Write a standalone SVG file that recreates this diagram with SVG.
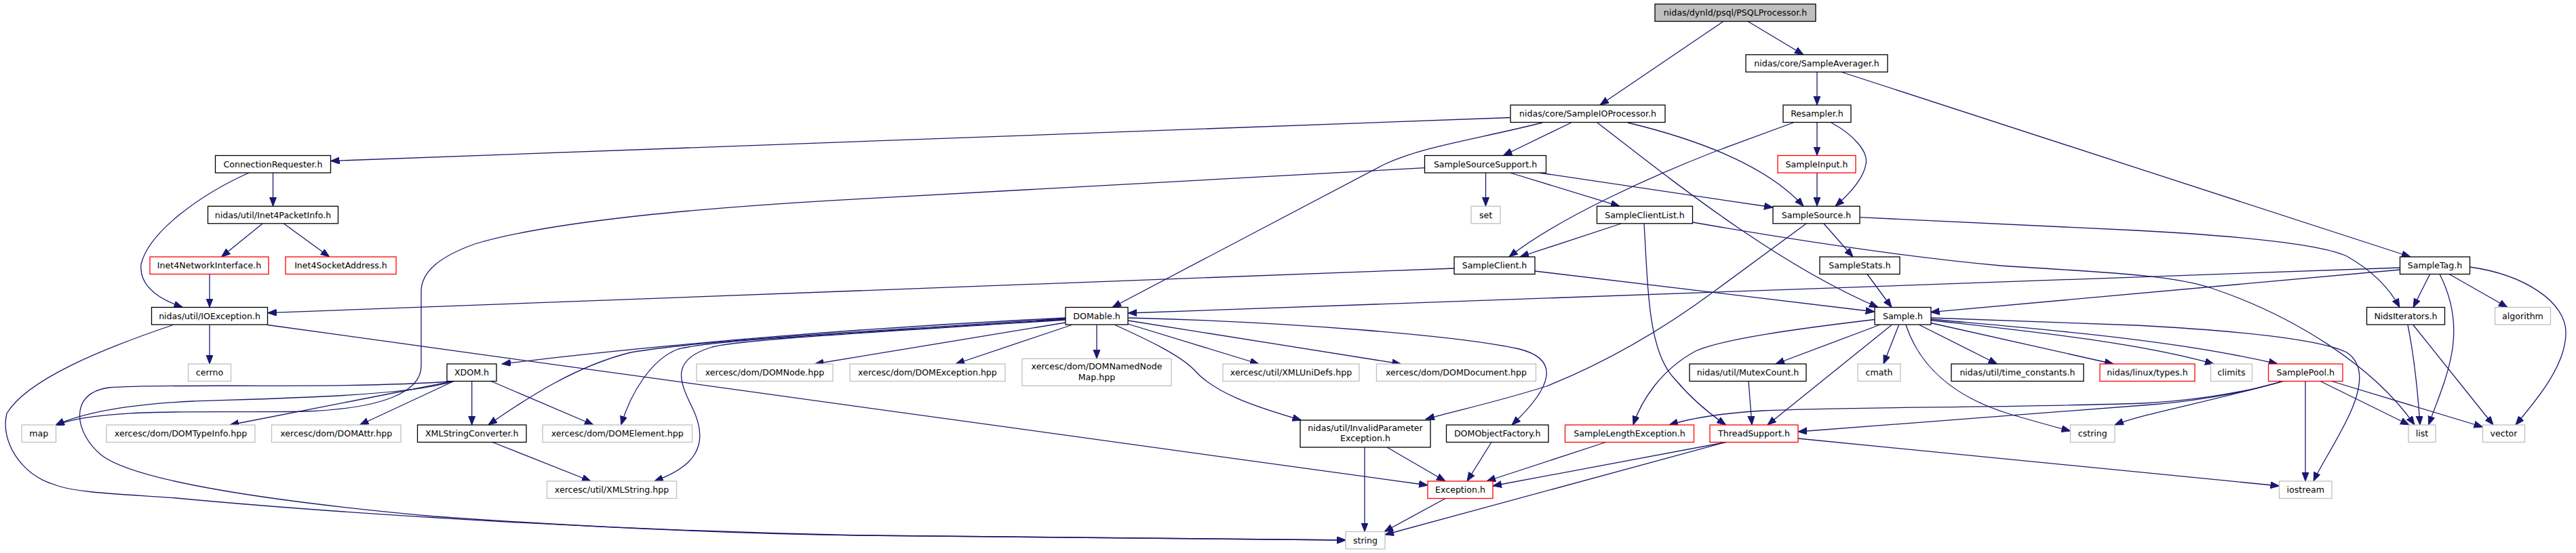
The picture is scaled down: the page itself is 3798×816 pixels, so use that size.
<svg xmlns="http://www.w3.org/2000/svg" width="3798" height="816" viewBox="0 0 3798 816">
<style>
rect{fill:#fff;stroke:#000;stroke-width:1.3}
.root rect{fill:#bfbfbf}
.red rect{stroke:#ff0000}
.gry rect{stroke:#bfbfbf}
text{font-family:"DejaVu Sans","Liberation Sans",sans-serif;font-size:12.6px;text-anchor:middle;fill:#000}
#edges path{fill:none;stroke:#191970;stroke-width:1.3;marker-end:url(#ah)}
</style>
<defs>
<marker id="ah" markerUnits="userSpaceOnUse" markerWidth="14" markerHeight="11" refX="13" refY="5" orient="auto">
<path d="M0,0 L13,5 L0,10 z" fill="#191970" stroke="#191970" stroke-width="1"/>
</marker>
</defs>
<rect x="0" y="0" width="3798" height="816" style="fill:#fff;stroke:none"/>
<g id="edges">
<path d="M2541,31.5 L2359,155"/>
<path d="M2577,31.5 L2659,80.7"/>
<path d="M2227,173.5 L487.5,237.5"/>
<path d="M2274,181 C2180,205 2100,215 2040,243 L1640,453.5"/>
<path d="M2316.5,181 L2216.5,229.5"/>
<path d="M2355,181 C2470,270 2620,390 2769,453.5"/>
<path d="M2400,181 C2520,210 2610,250 2659,304.3"/>
<path d="M2679,106 L2679,155"/>
<path d="M2714,106 L3554,379"/>
<path d="M2644,181 L2530,223 C2440,258 2300,320 2225,379"/>
<path d="M2679,181 L2679,229.5"/>
<path d="M2700,181 C2735,200 2755,225 2751,242 C2748,262 2728,285 2706,304.3"/>
<path d="M2679,255 L2679,304.3"/>
<path d="M402.5,255 L402.5,304.3"/>
<path d="M367,255 C300,285 220,340 208,390 C205,420 230,440 269.4,453.5"/>
<path d="M387,330 L326.5,379"/>
<path d="M418.5,330 L485.7,379"/>
<path d="M309,404.5 L309,453.5"/>
<path d="M2190.5,255 L2190.5,304.3"/>
<path d="M2226.7,255 L2388,304.3"/>
<path d="M2269.6,255 L2614,306"/>
<path d="M2100.6,247.7 L1270,293.3 C1000,308 800,330 700,360 C650,378 621,400 621,430 L621,540 C621,580 560,603 450,607 C320,610 150,600 82,627.5"/>
<path d="M2390,330 L2241,379"/>
<path d="M2424,330 C2430,430 2430,520 2470,560 C2495,590 2520,610 2544.5,627"/>
<path d="M2495.7,328 C2650,355 2800,378 2950,392 C3100,402 3200,405 3260,425 C3380,465 3500,540 3560,627"/>
<path d="M2689,330 L2732,379"/>
<path d="M2742.4,320.7 L3150,340 C3300,348 3420,360 3460,378 C3490,395 3520,420 3538,453.5"/>
<path d="M2663,330 L2530,428 C2460,480 2380,530 2280,570 C2200,595 2150,605 2102,618.5"/>
<path d="M2753,404.5 L2789,453.5"/>
<path d="M2144,396 L394.7,461.7"/>
<path d="M2263,400 L2763.7,460"/>
<path d="M3538.6,395 L1663.3,462"/>
<path d="M3538.6,398 L2846.5,460.7"/>
<path d="M3582.6,404.5 L3558,453.5"/>
<path d="M3597,404.5 C3615,440 3622,480 3615,520 C3608,560 3592,595 3580.6,627"/>
<path d="M3611,404.5 L3697,453.5"/>
<path d="M3641.8,394 C3720,405 3785,445 3783,493 C3782,540 3740,590 3709,627"/>
<path d="M309,479.5 L309,537"/>
<path d="M255,479.5 C150,515 40,560 10,610 C0,650 30,700 80,715 C110,728 200,730 260,735 C420,750 800,780 1270,790 L1984,797"/>
<path d="M394.7,479.5 L2105,716"/>
<path d="M1571,469 C1300,482 1000,505 740,537"/>
<path d="M1571,470 C1300,488 1050,500 930,520 C850,540 780,585 720,627"/>
<path d="M1571,471 C1300,490 1060,500 1000,515 C960,530 930,580 915.7,627"/>
<path d="M1571,472 C1300,490 1100,500 1050,512 C990,530 1000,560 1020,600 C1050,660 1020,690 964.7,710"/>
<path d="M1571,476 L1201.4,537"/>
<path d="M1580,479.5 L1409,537"/>
<path d="M1617,479.5 L1617,529.3"/>
<path d="M1663,478 L1856,537"/>
<path d="M1663.3,473 L2065.5,537"/>
<path d="M1663.3,469 C1900,475 2150,495 2240,515 C2300,530 2290,570 2229,627"/>
<path d="M1644,479.5 C1700,505 1740,525 1760,545 C1790,580 1850,600 1918.6,620"/>
<path d="M695.7,562.5 L695.7,627"/>
<path d="M724,562.5 L875,627"/>
<path d="M669,562.5 C600,585 400,588 285,592 C180,597 120,610 82,627.5"/>
<path d="M669,562.5 L339,627"/>
<path d="M669,562.5 L530.6,627"/>
<path d="M669,562.5 C500,575 250,565 160,572 C100,580 110,640 150,672 C200,710 400,740 640,762 C900,780 1100,788 1270,790 L1984,797"/>
<path d="M726,652.5 L871,710"/>
<path d="M2012,660 L2012,784.5"/>
<path d="M2045,660 L2131,710"/>
<path d="M2199,652.5 L2163,710"/>
<path d="M2367.6,652.5 L2192,710"/>
<path d="M2544.5,652.5 L2201,717"/>
<path d="M2544.5,652.5 L2042,789"/>
<path d="M2131,735.5 L2041,784.5"/>
<path d="M2771,479.5 L2618,537"/>
<path d="M2789,479.5 L2606,627"/>
<path d="M2799.6,479.5 L2777,537"/>
<path d="M2810,479.5 C2830,540 2880,585 2960,610 C3000,622 3030,630 3052.5,636"/>
<path d="M2830,479.5 L2944.5,537"/>
<path d="M2846.5,476.5 L3116,537"/>
<path d="M2846.5,472.5 C3000,490 3150,505 3264,537"/>
<path d="M2846.5,471 C3000,485 3200,500 3358,537"/>
<path d="M2846.5,469 L3150,480 C3300,488 3420,500 3460,520 C3490,540 3480,580 3460,620 C3440,660 3420,690 3411,710"/>
<path d="M2763.7,471.5 C2650,485 2540,500 2500,518 C2450,545 2420,590 2408,627"/>
<path d="M2578,562.5 L2583,627"/>
<path d="M3366,562.5 C3300,582 3220,594 3160,598 L2651,637"/>
<path d="M3366,562.5 C3300,582 3220,592 3160,595 C2950,602 2750,600 2600,606 C2530,610 2490,618 2461,627"/>
<path d="M3366,562.5 C3250,595 3160,610 3118,627"/>
<path d="M3399,562.5 L3399,710"/>
<path d="M3421,562.5 L3552,627"/>
<path d="M3437.7,562.5 L3660.5,630"/>
<path d="M3550,479.5 C3560,530 3565,580 3568,627"/>
<path d="M3558,479.5 L3676,627"/>
<path d="M2651,647 L3360.5,717"/>
</g>
<g id="n_root" class="root"><rect x="2440" y="6" width="237" height="25.5"/><text x="2558.5" y="23.2">nidas/dynld/psql/PSQLProcessor.h</text></g>
<g id="n_SampleAverager"><rect x="2574" y="80.7" width="209" height="25.5"/><text x="2678.5" y="97.9">nidas/core/SampleAverager.h</text></g>
<g id="n_SampleIOProcessor"><rect x="2227" y="155" width="228" height="25.5"/><text x="2341" y="172.2">nidas/core/SampleIOProcessor.h</text></g>
<g id="n_Resampler"><rect x="2629" y="155" width="100" height="25.5"/><text x="2679" y="172.2">Resampler.h</text></g>
<g id="n_ConnectionRequester"><rect x="317.5" y="229.5" width="170" height="25.5"/><text x="402.5" y="246.7">ConnectionRequester.h</text></g>
<g id="n_SampleSourceSupport"><rect x="2100.5" y="229.5" width="179" height="25.5"/><text x="2190" y="246.7">SampleSourceSupport.h</text></g>
<g id="n_SampleInput" class="red"><rect x="2621" y="229.5" width="115" height="25.5"/><text x="2678.5" y="246.7">SampleInput.h</text></g>
<g id="n_Inet4PacketInfo"><rect x="306.5" y="304.3" width="192" height="25.5"/><text x="402.5" y="321.5">nidas/util/Inet4PacketInfo.h</text></g>
<g id="n_set" class="gry"><rect x="2169" y="304.3" width="43" height="25.5"/><text x="2190.5" y="321.5">set</text></g>
<g id="n_SampleClientList"><rect x="2354.5" y="304.3" width="141" height="25.5"/><text x="2425" y="321.5">SampleClientList.h</text></g>
<g id="n_SampleSource"><rect x="2614" y="304.3" width="128" height="25.5"/><text x="2678" y="321.5">SampleSource.h</text></g>
<g id="n_Inet4NetworkInterface" class="red"><rect x="221" y="379" width="175" height="25.5"/><text x="308.5" y="396.2">Inet4NetworkInterface.h</text></g>
<g id="n_Inet4SocketAddress" class="red"><rect x="421" y="379" width="163" height="25.5"/><text x="502.5" y="396.2">Inet4SocketAddress.h</text></g>
<g id="n_SampleClient"><rect x="2144" y="379" width="119" height="25.5"/><text x="2203.5" y="396.2">SampleClient.h</text></g>
<g id="n_SampleStats"><rect x="2683" y="379" width="118" height="25.5"/><text x="2742" y="396.2">SampleStats.h</text></g>
<g id="n_SampleTag"><rect x="3538.5" y="379" width="103" height="25.5"/><text x="3590" y="396.2">SampleTag.h</text></g>
<g id="n_IOException"><rect x="223.5" y="453.5" width="171" height="25.5"/><text x="309" y="470.7">nidas/util/IOException.h</text></g>
<g id="n_DOMable"><rect x="1571" y="453.5" width="92" height="25.5"/><text x="1617" y="470.7">DOMable.h</text></g>
<g id="n_Sample"><rect x="2764" y="453.5" width="83" height="25.5"/><text x="2805.5" y="470.7">Sample.h</text></g>
<g id="n_NidsIterators"><rect x="3489.5" y="453.5" width="115" height="25.5"/><text x="3547" y="470.7">NidsIterators.h</text></g>
<g id="n_algorithm" class="gry"><rect x="3678.5" y="453.5" width="82" height="25.5"/><text x="3719.5" y="470.7">algorithm</text></g>
<g id="n_cerrno" class="gry"><rect x="277.5" y="537" width="63" height="25.5"/><text x="309" y="554.2">cerrno</text></g>
<g id="n_XDOM"><rect x="659" y="537" width="73" height="25.5"/><text x="695.5" y="554.2">XDOM.h</text></g>
<g id="n_DOMNode" class="gry"><rect x="1027" y="537" width="201" height="25.5"/><text x="1127.5" y="554.2">xercesc/dom/DOMNode.hpp</text></g>
<g id="n_DOMException" class="gry"><rect x="1253" y="537" width="229" height="25.5"/><text x="1367.5" y="554.2">xercesc/dom/DOMException.hpp</text></g>
<g id="n_DOMNamedNodeMap" class="gry"><rect x="1507" y="529.3" width="220" height="40"/><text x="1617" y="545">xercesc/dom/DOMNamedNode</text><text x="1617" y="560.5">Map.hpp</text></g>
<g id="n_XMLUniDefs" class="gry"><rect x="1803" y="537" width="201" height="25.5"/><text x="1903.5" y="554.2">xercesc/util/XMLUniDefs.hpp</text></g>
<g id="n_DOMDocument" class="gry"><rect x="2029.5" y="537" width="235" height="25.5"/><text x="2147" y="554.2">xercesc/dom/DOMDocument.hpp</text></g>
<g id="n_MutexCount"><rect x="2491" y="537" width="172" height="25.5"/><text x="2577" y="554.2">nidas/util/MutexCount.h</text></g>
<g id="n_cmath" class="gry"><rect x="2739" y="537" width="63" height="25.5"/><text x="2770.5" y="554.2">cmath</text></g>
<g id="n_time_constants"><rect x="2877" y="537" width="195" height="25.5"/><text x="2974.5" y="554.2">nidas/util/time_constants.h</text></g>
<g id="n_linux_types" class="red"><rect x="3096" y="537" width="140" height="25.5"/><text x="3166" y="554.2">nidas/linux/types.h</text></g>
<g id="n_climits" class="gry"><rect x="3259.5" y="537" width="61" height="25.5"/><text x="3290" y="554.2">climits</text></g>
<g id="n_SamplePool" class="red"><rect x="3344.5" y="537" width="109.5" height="25.5"/><text x="3399.25" y="554.2">SamplePool.h</text></g>
<g id="n_map" class="gry"><rect x="32" y="627" width="50.5" height="25.5"/><text x="57.25" y="644.2">map</text></g>
<g id="n_DOMTypeInfo" class="gry"><rect x="157" y="627" width="219" height="25.5"/><text x="266.5" y="644.2">xercesc/dom/DOMTypeInfo.hpp</text></g>
<g id="n_DOMAttr" class="gry"><rect x="400.5" y="627" width="190.5" height="25.5"/><text x="495.75" y="644.2">xercesc/dom/DOMAttr.hpp</text></g>
<g id="n_XMLStringConverter"><rect x="615.5" y="627" width="160.5" height="25.5"/><text x="695.75" y="644.2">XMLStringConverter.h</text></g>
<g id="n_DOMElement" class="gry"><rect x="800" y="627" width="220.5" height="25.5"/><text x="910.25" y="644.2">xercesc/dom/DOMElement.hpp</text></g>
<g id="n_InvalidParameterException"><rect x="1917" y="620" width="192" height="40"/><text x="2013" y="635.5">nidas/util/InvalidParameter</text><text x="2013" y="651">Exception.h</text></g>
<g id="n_DOMObjectFactory"><rect x="2132.5" y="627" width="150.5" height="25.5"/><text x="2207.75" y="644.2">DOMObjectFactory.h</text></g>
<g id="n_SampleLengthException" class="red"><rect x="2307.5" y="627" width="190" height="25.5"/><text x="2402.5" y="644.2">SampleLengthException.h</text></g>
<g id="n_ThreadSupport" class="red"><rect x="2521" y="627" width="130" height="25.5"/><text x="2586" y="644.2">ThreadSupport.h</text></g>
<g id="n_cstring" class="gry"><rect x="3052.5" y="627" width="65.5" height="25.5"/><text x="3085.25" y="644.2">cstring</text></g>
<g id="n_list" class="gry"><rect x="3551" y="627" width="40" height="25.5"/><text x="3571" y="644.2">list</text></g>
<g id="n_vector" class="gry"><rect x="3660.5" y="627" width="62" height="25.5"/><text x="3691.5" y="644.2">vector</text></g>
<g id="n_XMLString" class="gry"><rect x="806.5" y="710" width="191" height="25.5"/><text x="902" y="727.2">xercesc/util/XMLString.hpp</text></g>
<g id="n_Exception" class="red"><rect x="2105" y="710" width="96" height="25.5"/><text x="2153" y="727.2">Exception.h</text></g>
<g id="n_iostream" class="gry"><rect x="3360.5" y="710" width="77.5" height="25.5"/><text x="3399.25" y="727.2">iostream</text></g>
<g id="n_string" class="gry"><rect x="1984" y="784.5" width="58" height="25.5"/><text x="2013" y="801.7">string</text></g>
</svg>
